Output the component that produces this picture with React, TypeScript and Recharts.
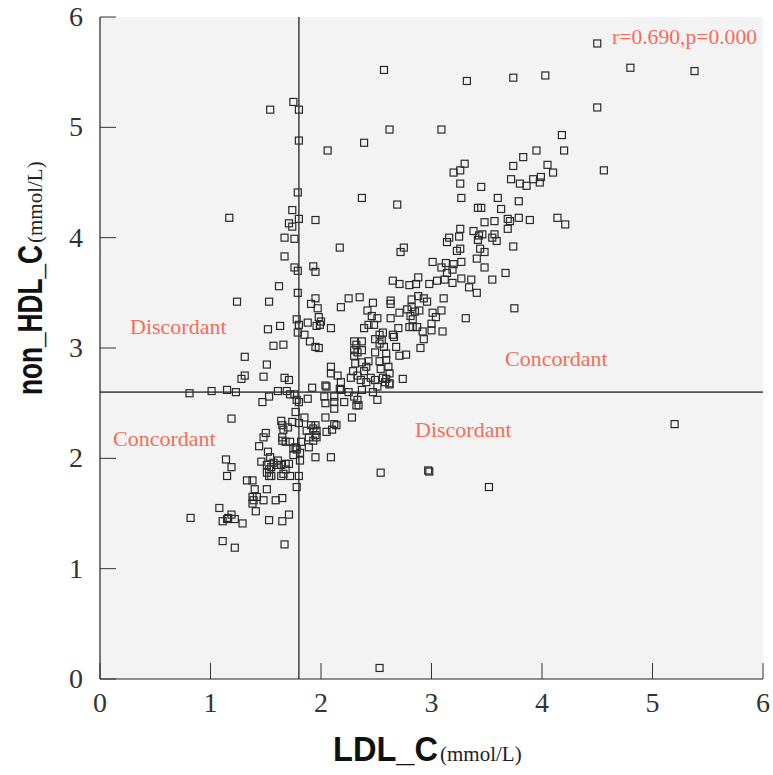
import React from 'react';
import { ScatterChart, Scatter, XAxis, YAxis, CartesianGrid, ReferenceLine } from 'recharts';

// [LDL_C, non_HDL_C] in mmol/L, grouped by the 1.8 / 2.6 cut-offs
const upperRight: [number, number][] = [
  [4.5, 5.76], [4.8, 5.54], [5.38, 5.51], [4.03, 5.47], [3.74, 5.45], [3.32, 5.42], [2.57, 5.52],
  [4.5, 5.18], [1.8, 5.16], [1.8, 4.88], [2.06, 4.79], [2.62, 4.98], [3.09, 4.98], [2.39, 4.86],
  [2.37, 4.36], [2.69, 4.3], [2.17, 3.91], [2.75, 3.91], [2.72, 3.87], [4.56, 4.61],
  [4.18, 4.93], [3.95, 4.79], [4.2, 4.79], [3.83, 4.73], [4.05, 4.66], [3.3, 4.67], [3.2, 4.59],
  [3.26, 4.61], [3.74, 4.65], [4.1, 4.59], [3.72, 4.53], [3.8, 4.49], [3.86, 4.47], [3.92, 4.53],
  [3.99, 4.55], [3.98, 4.5], [3.26, 4.49], [3.45, 4.46], [3.27, 4.36], [3.6, 4.36], [3.79, 4.33],
  [3.42, 4.27], [3.45, 4.27], [3.63, 4.26], [3.48, 4.14], [3.57, 4.15], [3.69, 4.17], [3.71, 4.15],
  [3.79, 4.18], [3.89, 4.16], [4.14, 4.18], [4.21, 4.12], [3.69, 4.08], [3.26, 4.08], [3.38, 4.06],
  [3.25, 4.01], [3.43, 4.02], [3.46, 4.03], [3.57, 4.03], [3.55, 4.0], [3.16, 4.0], [3.14, 3.96],
  [3.42, 3.98], [3.59, 3.97], [3.26, 3.9], [3.23, 3.88], [3.44, 3.9], [3.48, 3.87], [3.74, 3.92],
  [3.41, 3.81], [3.01, 3.78], [3.09, 3.73], [3.13, 3.77], [3.2, 3.76], [3.27, 3.78], [3.19, 3.71],
  [3.14, 3.68], [3.48, 3.73], [3.67, 3.68], [3.27, 3.63], [3.36, 3.62], [3.55, 3.62], [3.12, 3.62],
  [3.05, 3.61], [3.19, 3.59], [3.34, 3.55], [3.41, 3.5], [3.75, 3.36], [3.31, 3.27],
  [1.8, 4.17], [1.95, 4.16], [1.93, 3.74], [1.95, 3.69], [1.95, 3.45], [1.91, 3.4], [1.97, 3.36],
  [1.98, 3.28], [1.96, 3.2], [1.99, 3.21], [1.8, 3.21], [1.85, 3.12], [1.88, 3.23], [1.9, 3.06],
  [1.95, 3.01], [1.98, 3.0], [1.92, 2.64],
  [2.88, 3.64], [2.65, 3.61], [2.71, 3.58], [2.8, 3.57], [2.86, 3.58], [2.98, 3.58], [2.25, 3.45],
  [2.35, 3.46], [2.47, 3.41], [2.63, 3.43], [2.63, 3.4], [2.18, 3.37], [2.42, 3.34], [2.46, 3.29],
  [2.51, 3.27], [2.39, 3.18], [2.43, 3.21], [2.48, 3.21], [2.63, 3.27], [2.71, 3.32], [2.78, 3.35],
  [2.82, 3.44], [2.88, 3.47], [2.93, 3.45], [2.96, 3.42], [2.82, 3.37], [2.85, 3.33], [2.81, 3.29],
  [2.83, 3.26], [2.89, 3.34], [3.11, 3.45], [3.01, 3.32], [3.09, 3.34], [3.04, 3.28], [3.0, 3.22],
  [2.83, 3.19], [2.87, 3.19], [2.8, 3.19], [2.92, 3.15], [3.0, 3.16], [3.1, 3.15], [2.7, 3.18],
  [2.65, 3.12], [2.66, 3.1], [2.93, 3.08], [2.9, 3.0], [2.09, 3.18], [2.0, 3.24], [2.37, 3.06],
  [2.49, 3.08], [2.53, 3.12], [2.56, 3.14], [2.55, 3.07], [2.53, 3.04], [2.49, 2.96], [2.57, 3.01],
  [2.59, 2.95], [2.68, 3.01], [2.71, 2.93], [2.77, 2.94], [2.3, 3.06], [2.32, 3.03], [2.37, 2.98],
  [2.3, 2.98], [2.3, 2.93], [2.33, 2.96], [2.43, 2.88], [2.37, 2.87], [2.31, 2.86], [2.53, 2.88],
  [2.59, 2.89], [2.61, 2.83], [2.54, 2.81], [2.41, 2.83], [2.39, 2.79], [2.29, 2.79], [2.27, 2.73],
  [2.33, 2.75], [2.36, 2.71], [2.41, 2.69], [2.45, 2.73], [2.49, 2.71], [2.56, 2.73], [2.62, 2.77],
  [2.59, 2.72], [2.58, 2.69], [2.62, 2.68], [2.74, 2.72], [2.09, 2.83], [2.09, 2.77], [2.15, 2.75],
  [2.18, 2.69], [2.04, 2.66], [2.17, 2.63], [2.18, 2.62], [2.37, 2.62], [2.51, 2.65], [2.62, 2.67],
  [2.05, 2.65], [2.25, 2.6], [2.47, 2.6],
];

const upperLeft: [number, number][] = [
  [1.75, 5.23], [1.54, 5.16], [1.79, 4.41], [1.74, 4.25], [1.17, 4.18], [1.71, 4.13], [1.74, 4.1],
  [1.67, 4.0], [1.76, 3.99], [1.67, 3.83], [1.76, 3.73], [1.79, 3.7], [1.62, 3.56], [1.79, 3.5],
  [1.24, 3.42], [1.53, 3.42], [1.78, 3.26], [1.79, 3.14], [1.63, 3.2], [1.52, 3.17], [1.66, 3.03],
  [1.57, 3.02], [1.31, 2.92], [1.51, 2.85], [1.31, 2.75], [1.28, 2.72], [1.48, 2.74], [1.67, 2.73],
  [1.71, 2.71], [1.01, 2.61], [1.15, 2.62], [1.23, 2.6], [1.61, 2.61], [1.69, 2.61],
];

const lowerLeft: [number, number][] = [
  [0.81, 2.59], [1.72, 2.58], [1.76, 2.58], [1.78, 2.53], [1.53, 2.56], [1.47, 2.51], [1.19, 2.36],
  [1.77, 2.42], [1.64, 2.34], [1.74, 2.33], [1.65, 2.3], [1.66, 2.26], [1.7, 2.28], [1.5, 2.23],
  [1.48, 2.19], [1.65, 2.19], [1.72, 2.15], [1.77, 2.1], [1.44, 2.11], [1.52, 2.06], [1.65, 2.16],
  [1.68, 2.15], [1.75, 2.09], [1.78, 2.08], [1.75, 2.03], [1.14, 1.99], [1.19, 1.92], [1.46, 1.97],
  [1.54, 2.01], [1.51, 1.94], [1.55, 1.92], [1.57, 1.96], [1.61, 1.98], [1.64, 1.94], [1.68, 1.95],
  [1.71, 1.95], [1.6, 1.94], [1.68, 1.9], [1.66, 1.86], [1.53, 1.9], [1.51, 1.87], [1.15, 1.84],
  [1.33, 1.8], [1.38, 1.8], [1.53, 1.84], [1.55, 1.84], [1.64, 1.84], [1.72, 1.84], [1.78, 1.74],
  [1.4, 1.72], [1.51, 1.72], [1.38, 1.65], [1.42, 1.65], [1.38, 1.59], [1.39, 1.62], [1.48, 1.62],
  [1.59, 1.62], [1.65, 1.64], [1.41, 1.52], [1.08, 1.55], [0.82, 1.46], [1.19, 1.49], [1.16, 1.46],
  [1.15, 1.45], [1.11, 1.43], [1.22, 1.45], [1.29, 1.41], [1.53, 1.44], [1.65, 1.43], [1.71, 1.49],
  [1.11, 1.25], [1.22, 1.19], [1.67, 1.22],
];

const lowerRight: [number, number][] = [
  [5.2, 2.31], [3.52, 1.74], [1.8, 2.51], [1.88, 2.54], [1.85, 2.37], [1.8, 2.32], [1.87, 2.25],
  [1.91, 2.3], [1.95, 2.3], [1.93, 2.27], [1.96, 2.25], [1.95, 2.21], [1.96, 2.19], [1.89, 2.19],
  [1.82, 2.15], [1.89, 2.1], [1.81, 2.05], [1.93, 2.16], [1.81, 1.98], [1.95, 2.01], [2.09, 2.01],
  [1.8, 1.84], [2.54, 1.87], [2.98, 1.88], [2.97, 1.89], [2.51, 2.53], [2.28, 2.37], [2.04, 2.37],
  [2.14, 2.3], [2.12, 2.31], [2.1, 2.26], [2.05, 2.24], [2.12, 2.45], [2.12, 2.51], [2.04, 2.5],
  [2.34, 2.48], [2.32, 2.48], [2.33, 2.53], [2.21, 2.51], [2.03, 2.56], [2.12, 2.56], [2.3, 2.56],
  [2.53, 0.1],
];

const axisTicks = [0, 1, 2, 3, 4, 5, 6];
const ldlCut = 1.8;
const nonHdlCut = 2.6;
const statText = 'r=0.690,p=0.000';

const toRows = (pts: [number, number][]) => pts.map(([ldl, nonHdl]) => ({ ldl, nonHdl }));

const serif = '"Liberation Serif", "DejaVu Serif", serif';
const sans = '"Liberation Sans", Arial, sans-serif';
const salmon = '#f26e5a';

const Square = (props: any) => {
  const { cx, cy } = props;
  if (cx == null || cy == null) return null;
  return <rect x={cx - 3.5} y={cy - 3.5} width={7} height={7} fill="none" stroke="#2a2a2a" strokeWidth={1.2} />;
};

const XTick = (props: any) => {
  const { x, y, payload } = props;
  return (
    <g>
      <line x1={x} x2={x} y1={y} y2={y - 16} stroke="#333" strokeWidth={1} />
      <text x={x} y={y + 33} textAnchor="middle" fontFamily={serif} fontSize={28} fill="#333">
        {payload.value}
      </text>
    </g>
  );
};

const YTick = (props: any) => {
  const { x, y, payload } = props;
  return (
    <g>
      <line x1={x} x2={x + 16} y1={y} y2={y} stroke="#333" strokeWidth={1} />
      <text x={x - 17} y={y + 9} textAnchor="end" fontFamily={serif} fontSize={28} fill="#333">
        {payload.value}
      </text>
    </g>
  );
};

const App: React.FC = () => {
  return (
    <div style={{ position: 'absolute', left: 0, top: 0, width: 773, height: 775, background: '#fff' }}>
      <ScatterChart width={773} height={775} margin={{ top: 17, right: 10, bottom: 0, left: 0 }}>
        <CartesianGrid horizontal={false} vertical={false} fill="#f3f3f3" stroke="none" />
        <XAxis
          dataKey="ldl"
          type="number"
          domain={[0, 6]}
          ticks={axisTicks}
          height={96}
          tickSize={0}
          tickMargin={0}
          tickLine={false}
          axisLine={{ stroke: '#222', strokeWidth: 1.2 }}
          tick={<XTick />}
        />
        <YAxis
          dataKey="nonHdl"
          type="number"
          domain={[0, 6]}
          ticks={axisTicks}
          width={100}
          tickSize={0}
          tickMargin={0}
          tickLine={false}
          axisLine={{ stroke: '#222', strokeWidth: 1.2 }}
          tick={<YTick />}
        />
        <ReferenceLine x={ldlCut} stroke="#222" strokeWidth={1.3} />
        <ReferenceLine y={nonHdlCut} stroke="#555" strokeWidth={1.8} />
        <Scatter data={toRows(upperRight)} shape={Square} isAnimationActive={false} />
        <Scatter data={toRows(upperLeft)} shape={Square} isAnimationActive={false} />
        <Scatter data={toRows(lowerLeft)} shape={Square} isAnimationActive={false} />
        <Scatter data={toRows(lowerRight)} shape={Square} isAnimationActive={false} />
      </ScatterChart>
      <svg width={773} height={775} style={{ position: 'absolute', left: 0, top: 0, pointerEvents: 'none' }}>
        <text x={612} y={44} fontFamily={serif} fontSize={22} fill={salmon}
          textLength={145} lengthAdjust="spacingAndGlyphs">{statText}</text>
        <text x={130} y={334} fontFamily={serif} fontSize={22} fill={salmon}>Discordant</text>
        <text x={113} y={446} fontFamily={serif} fontSize={22} fill={salmon}>Concordant</text>
        <text x={505} y={366} fontFamily={serif} fontSize={22} fill={salmon}>Concordant</text>
        <text x={415} y={437} fontFamily={serif} fontSize={22} fill={salmon}>Discordant</text>
        <text x={333} y={761} fontFamily={sans} fontWeight="bold" fontSize={35} fill="#111"
          textLength={105} lengthAdjust="spacingAndGlyphs">LDL_C</text>
        <text x={440} y={761} fontFamily={serif} fontSize={21} fill="#222">(mmol/L)</text>
        <g transform="rotate(-90)">
          <text x={-395} y={42} fontFamily={sans} fontWeight="bold" fontSize={35} fill="#111"
            textLength={150} lengthAdjust="spacingAndGlyphs">non_HDL_C</text>
          <text x={-243} y={42} fontFamily={serif} fontSize={21} fill="#222">(mmol/L)</text>
        </g>
      </svg>
    </div>
  );
};

export default App;
